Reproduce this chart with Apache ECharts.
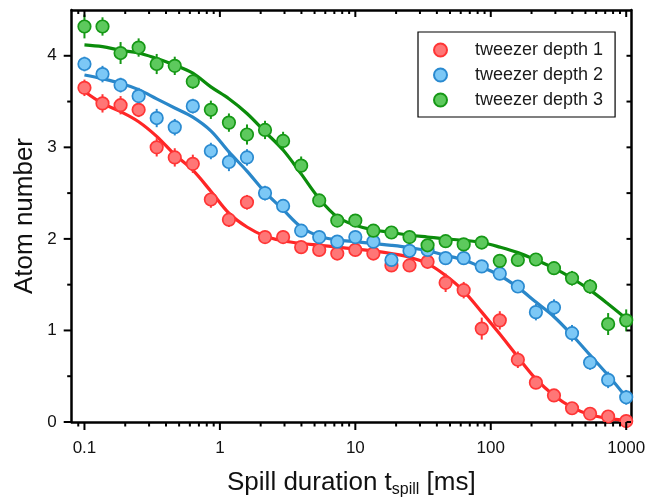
<!DOCTYPE html>
<html><head><meta charset="utf-8">
<script src="https://cdn.jsdelivr.net/npm/echarts@6/dist/echarts.min.js"></script>
<style>html,body{margin:0;padding:0;background:#fff}#c{width:646px;height:497px}</style>
</head><body><div id="c"></div>
<script>
// ---- data ----
const tSpill = [0.1, 0.1359, 0.1848, 0.2512, 0.3415, 0.4642, 0.631, 0.8577, 1.166, 1.585, 2.154, 2.929, 3.981, 5.412, 7.356, 10, 13.59, 18.48, 25.12, 34.15, 46.42, 63.1, 85.77, 116.6, 158.5, 215.4, 292.9, 398.1, 541.2, 735.6, 1000];

const depth1 = [3.65, 3.48, 3.46, 3.41, 3.00, 2.89, 2.82, 2.43, 2.21, 2.40, 2.02, 2.02, 1.91, 1.88, 1.84, 1.88, 1.84, 1.71, 1.71, 1.75, 1.52, 1.44, 1.02, 1.11, 0.68, 0.43, 0.29, 0.15, 0.09, 0.06, 0.01];
const depth1Err = [0.09, 0.10, 0.10, 0.08, 0.10, 0.10, 0.10, 0.09, 0.08, 0.08, 0.06, 0.07, 0.06, 0.06, 0.06, 0.06, 0.06, 0.07, 0.07, 0.07, 0.10, 0.09, 0.12, 0.10, 0.09, 0.07, 0.06, 0.05, 0.05, 0.04, 0.03];
const depth1Fit = [3.61, 3.48, 3.39, 3.28, 3.12, 2.92, 2.75, 2.52, 2.28, 2.13, 2.03, 1.98, 1.95, 1.93, 1.91, 1.89, 1.87, 1.84, 1.80, 1.73, 1.60, 1.43, 1.20, 0.96, 0.71, 0.47, 0.29, 0.16, 0.08, 0.04, 0.02];

const depth2 = [3.91, 3.80, 3.68, 3.56, 3.32, 3.22, 3.45, 2.96, 2.84, 2.89, 2.50, 2.36, 2.09, 2.02, 1.97, 2.02, 1.97, 1.77, 1.87, 1.88, 1.79, 1.79, 1.70, 1.62, 1.48, 1.20, 1.25, 0.97, 0.65, 0.46, 0.27];
const depth2Err = [0.08, 0.09, 0.08, 0.09, 0.10, 0.09, 0.08, 0.09, 0.10, 0.09, 0.08, 0.07, 0.06, 0.05, 0.05, 0.06, 0.05, 0.06, 0.05, 0.05, 0.06, 0.06, 0.06, 0.07, 0.07, 0.09, 0.09, 0.09, 0.08, 0.09, 0.08];
const depth2Fit = [3.79, 3.75, 3.70, 3.63, 3.53, 3.43, 3.33, 3.18, 2.95, 2.74, 2.51, 2.32, 2.13, 2.03, 1.99, 1.97, 1.95, 1.93, 1.905, 1.87, 1.82, 1.77, 1.69, 1.60, 1.47, 1.31, 1.15, 0.95, 0.73, 0.51, 0.27];

const depth3 = [4.32, 4.32, 4.03, 4.09, 3.91, 3.89, 3.72, 3.41, 3.27, 3.14, 3.19, 3.07, 2.80, 2.42, 2.20, 2.20, 2.09, 2.07, 2.02, 1.93, 1.975, 1.94, 1.96, 1.76, 1.77, 1.775, 1.68, 1.57, 1.48, 1.07, 1.11];
const depth3Err = [0.13, 0.10, 0.12, 0.10, 0.11, 0.10, 0.08, 0.10, 0.10, 0.11, 0.10, 0.10, 0.10, 0.07, 0.06, 0.06, 0.06, 0.06, 0.06, 0.06, 0.06, 0.06, 0.06, 0.07, 0.06, 0.07, 0.07, 0.08, 0.08, 0.12, 0.12];
const depth3Fit = [4.12, 4.10, 4.06, 4.03, 3.97, 3.90, 3.81, 3.66, 3.53, 3.37, 3.17, 2.97, 2.71, 2.44, 2.24, 2.15, 2.10, 2.07, 2.04, 2.02, 2.00, 1.985, 1.96, 1.91, 1.85, 1.77, 1.68, 1.57, 1.44, 1.29, 1.13];

const seriesNames = ['tweezer depth 1', 'tweezer depth 2', 'tweezer depth 3'];
const xTickLabels = [0.1, 1, 10, 100, 1000];
const xMinorTicks = [0.08, 0.09, 0.2, 0.3, 0.4, 0.5, 0.6, 0.7, 0.8, 0.9, 2, 3, 4, 5, 6, 7, 8, 9, 20, 30, 40, 50, 60, 70, 80, 90, 200, 300, 400, 500, 600, 700, 800, 900];
const yTickLabels = [0, 1, 2, 3, 4];
const yMinorTicks = [0.5, 1.5, 2.5, 3.5];

// ---- chart ----
const X_MIN = 0.0805, X_MAX = 1085, Y_MIN = 0, Y_MAX = 4.5;
const FONT = '"Liberation Sans", Arial, sans-serif';
const styles = [
  {line: '#FF2626', fill: '#FF7676', border: '#FF3535'},
  {line: '#2A87C9', fill: '#7CC8F6', border: '#2A8AD0'},
  {line: '#0B8C0B', fill: '#5DC95D', border: '#169816'}
];
const sets = [
  {y: depth1, e: depth1Err, fit: depth1Fit},
  {y: depth2, e: depth2Err, fit: depth2Fit},
  {y: depth3, e: depth3Err, fit: depth3Fit}
];

const series = [];
sets.forEach((s, i) => {
  series.push({
    type: 'line', name: 'fit' + i, data: tSpill.map((x, k) => [x, s.fit[k]]),
    smooth: 0.35, showSymbol: false, silent: true, z: 2,
    lineStyle: {color: styles[i].line, width: 3.2}
  });
});
sets.forEach((s, i) => {
  series.push({
    type: 'custom', name: 'err' + i, silent: true, z: 3,
    data: tSpill.map((x, k) => [x, s.y[k], s.e[k]]),
    renderItem: (params, api) => {
      const x = api.value(0), y = api.value(1), e = api.value(2);
      const p1 = api.coord([x, y - e]), p2 = api.coord([x, y + e]);
      return {type: 'line', shape: {x1: p1[0], y1: p1[1], x2: p2[0], y2: p2[1]},
        style: {stroke: styles[i].border, lineWidth: 2}};
    }
  });
});
sets.forEach((s, i) => {
  series.push({
    type: 'scatter', name: seriesNames[i], z: 4,
    data: tSpill.map((x, k) => [x, s.y[k]]),
    symbol: 'circle', symbolSize: 12.5,
    itemStyle: {color: styles[i].fill, borderColor: styles[i].border, borderWidth: 1.7, opacity: 1}
  });
});

// x ticks (log decades + minor) on bottom (outside) and top (inside)
const xTickData = xTickLabels.map(v => [v, Y_MIN, 1]).concat(xMinorTicks.map(v => [v, Y_MIN, 0]))
  .filter(d => d[0] >= X_MIN && d[0] <= X_MAX);
series.push({
  type: 'custom', name: 'xticks', silent: true, z: 6, data: xTickData,
  renderItem: (params, api) => {
    const v = api.value(0), major = api.value(2);
    const b = api.coord([v, Y_MIN]), t = api.coord([v, Y_MAX]);
    const lb = major ? 8 : 4.5, lt = major ? 7 : 4;
    return {type: 'group', children: [
      {type: 'line', shape: {x1: b[0], y1: b[1], x2: b[0], y2: b[1] + lb}, style: {stroke: '#000', lineWidth: 2}},
      {type: 'line', shape: {x1: t[0], y1: t[1], x2: t[0], y2: t[1] + lt}, style: {stroke: '#000', lineWidth: 2}}
    ]};
  }
});
// y ticks on left (outside) and right (inside)
const yTickData = yTickLabels.map(v => [X_MIN, v, 1]).concat(yMinorTicks.map(v => [X_MIN, v, 0]));
series.push({
  type: 'custom', name: 'yticks', silent: true, z: 6, data: yTickData,
  renderItem: (params, api) => {
    const v = api.value(1), major = api.value(2);
    const l = api.coord([X_MIN, v]), r = api.coord([X_MAX, v]);
    const ll = major ? 8 : 4.5, lr = 4.5;
    return {type: 'group', children: [
      {type: 'line', shape: {x1: l[0] - ll, y1: l[1], x2: l[0], y2: l[1]}, style: {stroke: '#000', lineWidth: 2}},
      {type: 'line', shape: {x1: r[0] - lr, y1: r[1], x2: r[0], y2: r[1]}, style: {stroke: '#000', lineWidth: 2}}
    ]};
  }
});

const axisLine = {show: true, onZero: false, lineStyle: {color: '#000', width: 2.5}};
const option = {
  animation: false,
  backgroundColor: '#fff',
  grid: {left: 71.7, right: 15, top: 10, bottom: 75, containLabel: false, outerBoundsMode: 'none'},
  xAxis: [
    {
      type: 'log', min: X_MIN, max: X_MAX, position: 'bottom', logBase: 10,
      axisLine: axisLine, axisTick: {show: false}, splitLine: {show: false}, minorTick: {show: false},
      axisLabel: {
        color: '#111', fontSize: 17, fontFamily: FONT, margin: 18,
        showMinLabel: false, showMaxLabel: false,
        formatter: v => {
          const r = xTickLabels.find(t => Math.abs(Math.log10(v) - Math.log10(t)) < 1e-6);
          return r === undefined ? '' : String(r);
        }
      },
      name: 'Spill duration t{sub|spill} [ms]', nameLocation: 'middle', nameGap: 46, nameMoveOverlap: false,
      nameTextStyle: {color: '#111', fontSize: 26, fontFamily: FONT,
        rich: {sub: {fontSize: 16, fontFamily: FONT, color: '#111', verticalAlign: 'bottom', padding: [14, 0, 0, 0]}}}
    },
    {
      type: 'log', min: X_MIN, max: X_MAX, position: 'top', logBase: 10,
      axisLine: axisLine, axisTick: {show: false}, axisLabel: {show: false}, splitLine: {show: false}
    }
  ],
  yAxis: [
    {
      type: 'value', min: Y_MIN, max: Y_MAX, position: 'left',
      axisLine: axisLine, axisTick: {show: false}, splitLine: {show: false},
      axisLabel: {customValues: yTickLabels, color: '#111', fontSize: 17, fontFamily: FONT, margin: 15},
      name: 'Atom number', nameLocation: 'middle', nameGap: 34, nameMoveOverlap: false,
      nameTextStyle: {color: '#111', fontSize: 26, fontFamily: FONT}
    },
    {
      type: 'value', min: Y_MIN, max: Y_MAX, position: 'right',
      axisLine: axisLine, axisTick: {show: false}, axisLabel: {show: false}, splitLine: {show: false}
    }
  ],
  legend: {
    data: seriesNames, orient: 'vertical', left: 418, top: 32,
    borderColor: '#000', borderWidth: 1.2, backgroundColor: '#fff',
    padding: [9, 12, 8, 15], itemGap: 7, itemWidth: 13, itemHeight: 13, icon: 'circle',
    selectedMode: false,
    textStyle: {fontSize: 18, color: '#1a1a1a', fontFamily: FONT, padding: [0, 0, 0, 23]}
  },
  series: series
};
const chart = echarts.init(document.getElementById('c'), null, {renderer: 'canvas'});
chart.setOption(option);
</script>
</body></html>
